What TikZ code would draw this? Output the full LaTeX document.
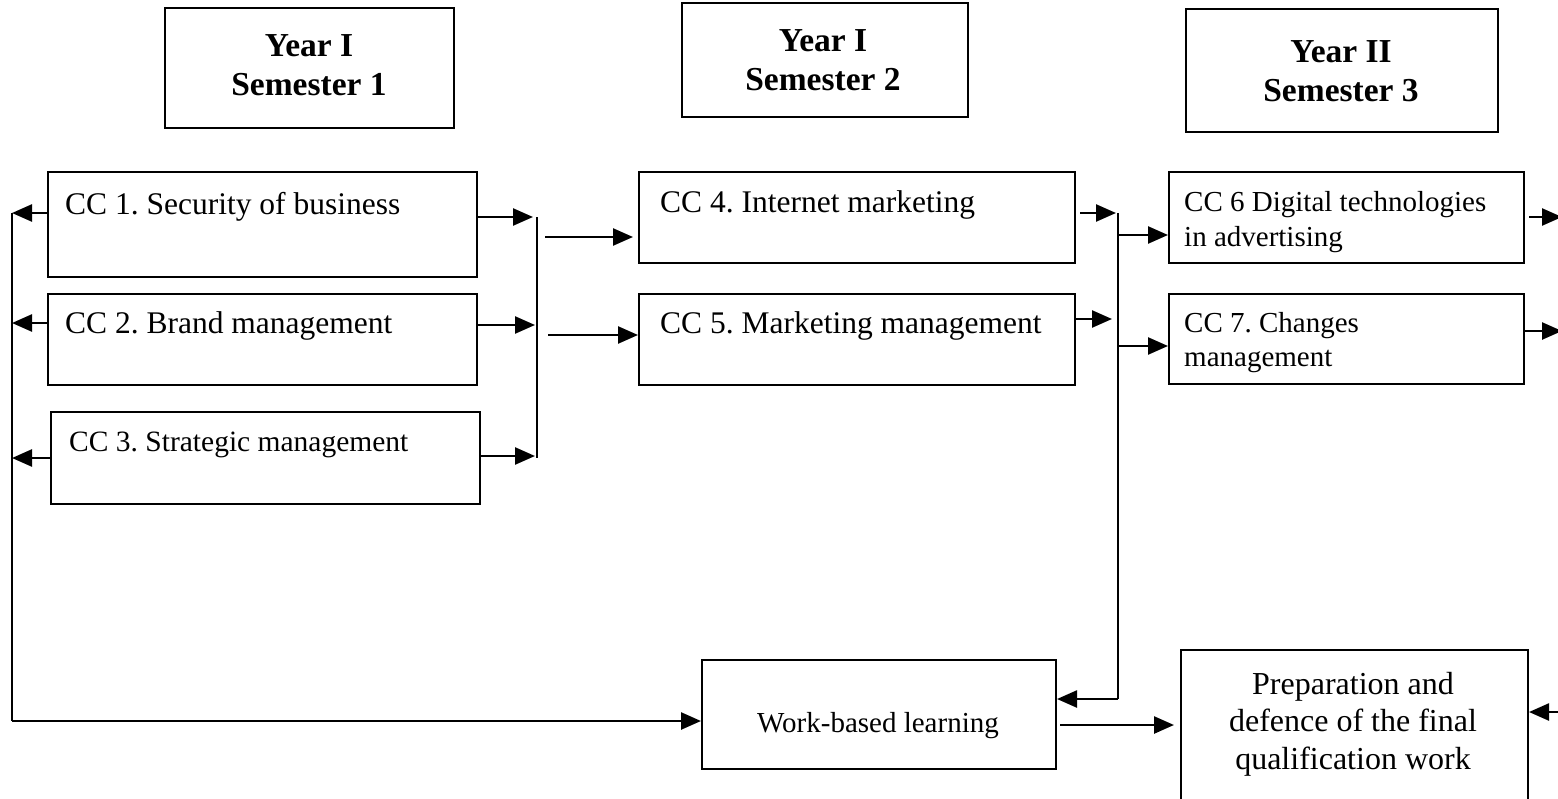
\documentclass[tikz,border=0pt]{standalone}
\usepackage{fontspec}
\setmainfont{Liberation Serif}
\usetikzlibrary{arrows.meta}
\frenchspacing
\begin{document}
\begin{tikzpicture}[x=1pt,y=-1pt,
  box/.style={draw, line width=2pt, inner sep=0pt, anchor=north west},
  txt/.style={inner sep=0pt, font=\fontsize{31.5}{36}\selectfont},
  head/.style={inner sep=0pt, align=center, font=\bfseries\fontsize{33.5}{39}\selectfont},
  link/.style={line width=2.5pt},
  arr/.style={link, -{Triangle[length=20pt,width=17pt]}}]
\useasboundingbox (0,0) rectangle (1558,798);
\clip (0,0) rectangle (1558,798);

% semester headers
\node[box, minimum width=289, minimum height=120] (h1) at (164,7) {};
\node[box, minimum width=286, minimum height=114] (h2) at (681,2) {};
\node[box, minimum width=312, minimum height=123] (h3) at (1185,8) {};
\node[head, anchor=north] (h1t) at (309,34) {Year I\\Semester 1};
\node[head, anchor=north] (h2t) at (823,29) {Year I\\Semester 2};
\node[head, anchor=north] (h3t) at (1341,40) {Year II\\Semester 3};

% course boxes
\node[box, minimum width=429, minimum height=105] (cc1) at (47,171) {};
\node[box, minimum width=429, minimum height=91] (cc2) at (47,293) {};
\node[box, minimum width=429, minimum height=92] (cc3) at (50,411) {};
\node[box, minimum width=436, minimum height=91] (cc4) at (638,171) {};
\node[box, minimum width=436, minimum height=91] (cc5) at (638,293) {};
\node[box, minimum width=355, minimum height=91] (cc6) at (1168,171) {};
\node[box, minimum width=355, minimum height=90] (cc7) at (1168,293) {};
\node[box, minimum width=354, minimum height=109] (wbl) at (701,659) {};
\node[box, minimum width=347, minimum height=170] (prep) at (1180,649) {};

\node[txt, anchor=base west] (cc1t) at (65,214) {CC 1. Security of business};
\node[txt, anchor=base west] (cc2t) at (65,333) {CC 2. Brand management};
\node[txt, anchor=base west, font=\fontsize{29.5}{34}\selectfont] (cc3t) at (69,451) {CC 3. Strategic management};
\node[txt, anchor=base west] (cc4t) at (660,212) {CC 4. Internet marketing};
\node[txt, anchor=base west] (cc5t) at (660,333) {CC 5. Marketing management};
\node[txt, anchor=north west, align=left, font=\fontsize{29}{35}\selectfont] (cc6t) at (1184,191) {CC 6 Digital technologies\\in advertising};
\node[txt, anchor=north west, align=left, font=\fontsize{29}{34}\selectfont] (cc7t) at (1184,312) {CC 7. Changes\\management};
\node[txt, anchor=base, font=\fontsize{29}{32}\selectfont] (wblt) at (878,732) {Work-based learning};
\node[txt, anchor=north, align=center, font=\fontsize{32}{37.5}\selectfont] (prept) at (1353,672) {Preparation and\\defence of the final\\qualification work};

% junction points
\coordinate (l1) at (12,213);
\coordinate (l2) at (12,323);
\coordinate (l3) at (12,458);
\coordinate (lb) at (12,721);
\coordinate (m1) at (537,217);
\coordinate (m2) at (537,325);
\coordinate (m3) at (537,456);
\coordinate (mb) at (537,458);
\coordinate (o1) at (545,237);
\coordinate (o2) at (548,335);
\coordinate (n1) at (1118,213);
\coordinate (n2) at (1118,319);
\coordinate (n3) at (1118,235);
\coordinate (n4) at (1118,346);
\coordinate (nb) at (1118,699);
\coordinate (w1) at (1060,725);
\coordinate (e1) at (1562,217);
\coordinate (e2) at (1562,331);
\coordinate (e3) at (1562,712);

% left feedback line
\draw[arr] (cc1.west |- l1) -- (l1);
\draw[arr] (cc2.west |- l2) -- (l2);
\draw[arr] (cc3.west |- l3) -- (l3);
\draw[link] (l1) -- (lb);
\draw[arr] (lb) -- (wbl.west |- lb);

% semester 1 to semester 2
\draw[arr, shorten >=4pt] (cc1.east |- m1) -- (m1);
\draw[arr, shorten >=2pt] (cc2.east |- m2) -- (m2);
\draw[arr, shorten >=2pt] (cc3.east |- m3) -- (m3);
\draw[link] (m1) -- (mb);
\draw[arr, shorten >=5pt] (o1) -- (cc4.west |- o1);
\draw[arr] (o2) -- (cc5.west |- o2);

% semester 2 to semester 3
\draw[arr, shorten <=4pt, shorten >=2pt] (cc4.east |- n1) -- (n1);
\draw[arr, shorten >=6pt] (cc5.east |- n2) -- (n2);
\draw[link] (n1) -- (nb);
\draw[arr] (n3) -- (cc6.west |- n3);
\draw[arr] (n4) -- (cc7.west |- n4);
\draw[arr] (nb) -- (wbl.east |- nb);

% final stage
\draw[arr, shorten >=6pt] (w1) -- (prep.west |- w1);
\draw[arr, shorten <=4pt] (cc6.east |- e1) -- (e1);
\draw[arr] (cc7.east |- e2) -- (e2);
\draw[arr] (e3) -- (prep.east |- e3);
\end{tikzpicture}
\end{document}
